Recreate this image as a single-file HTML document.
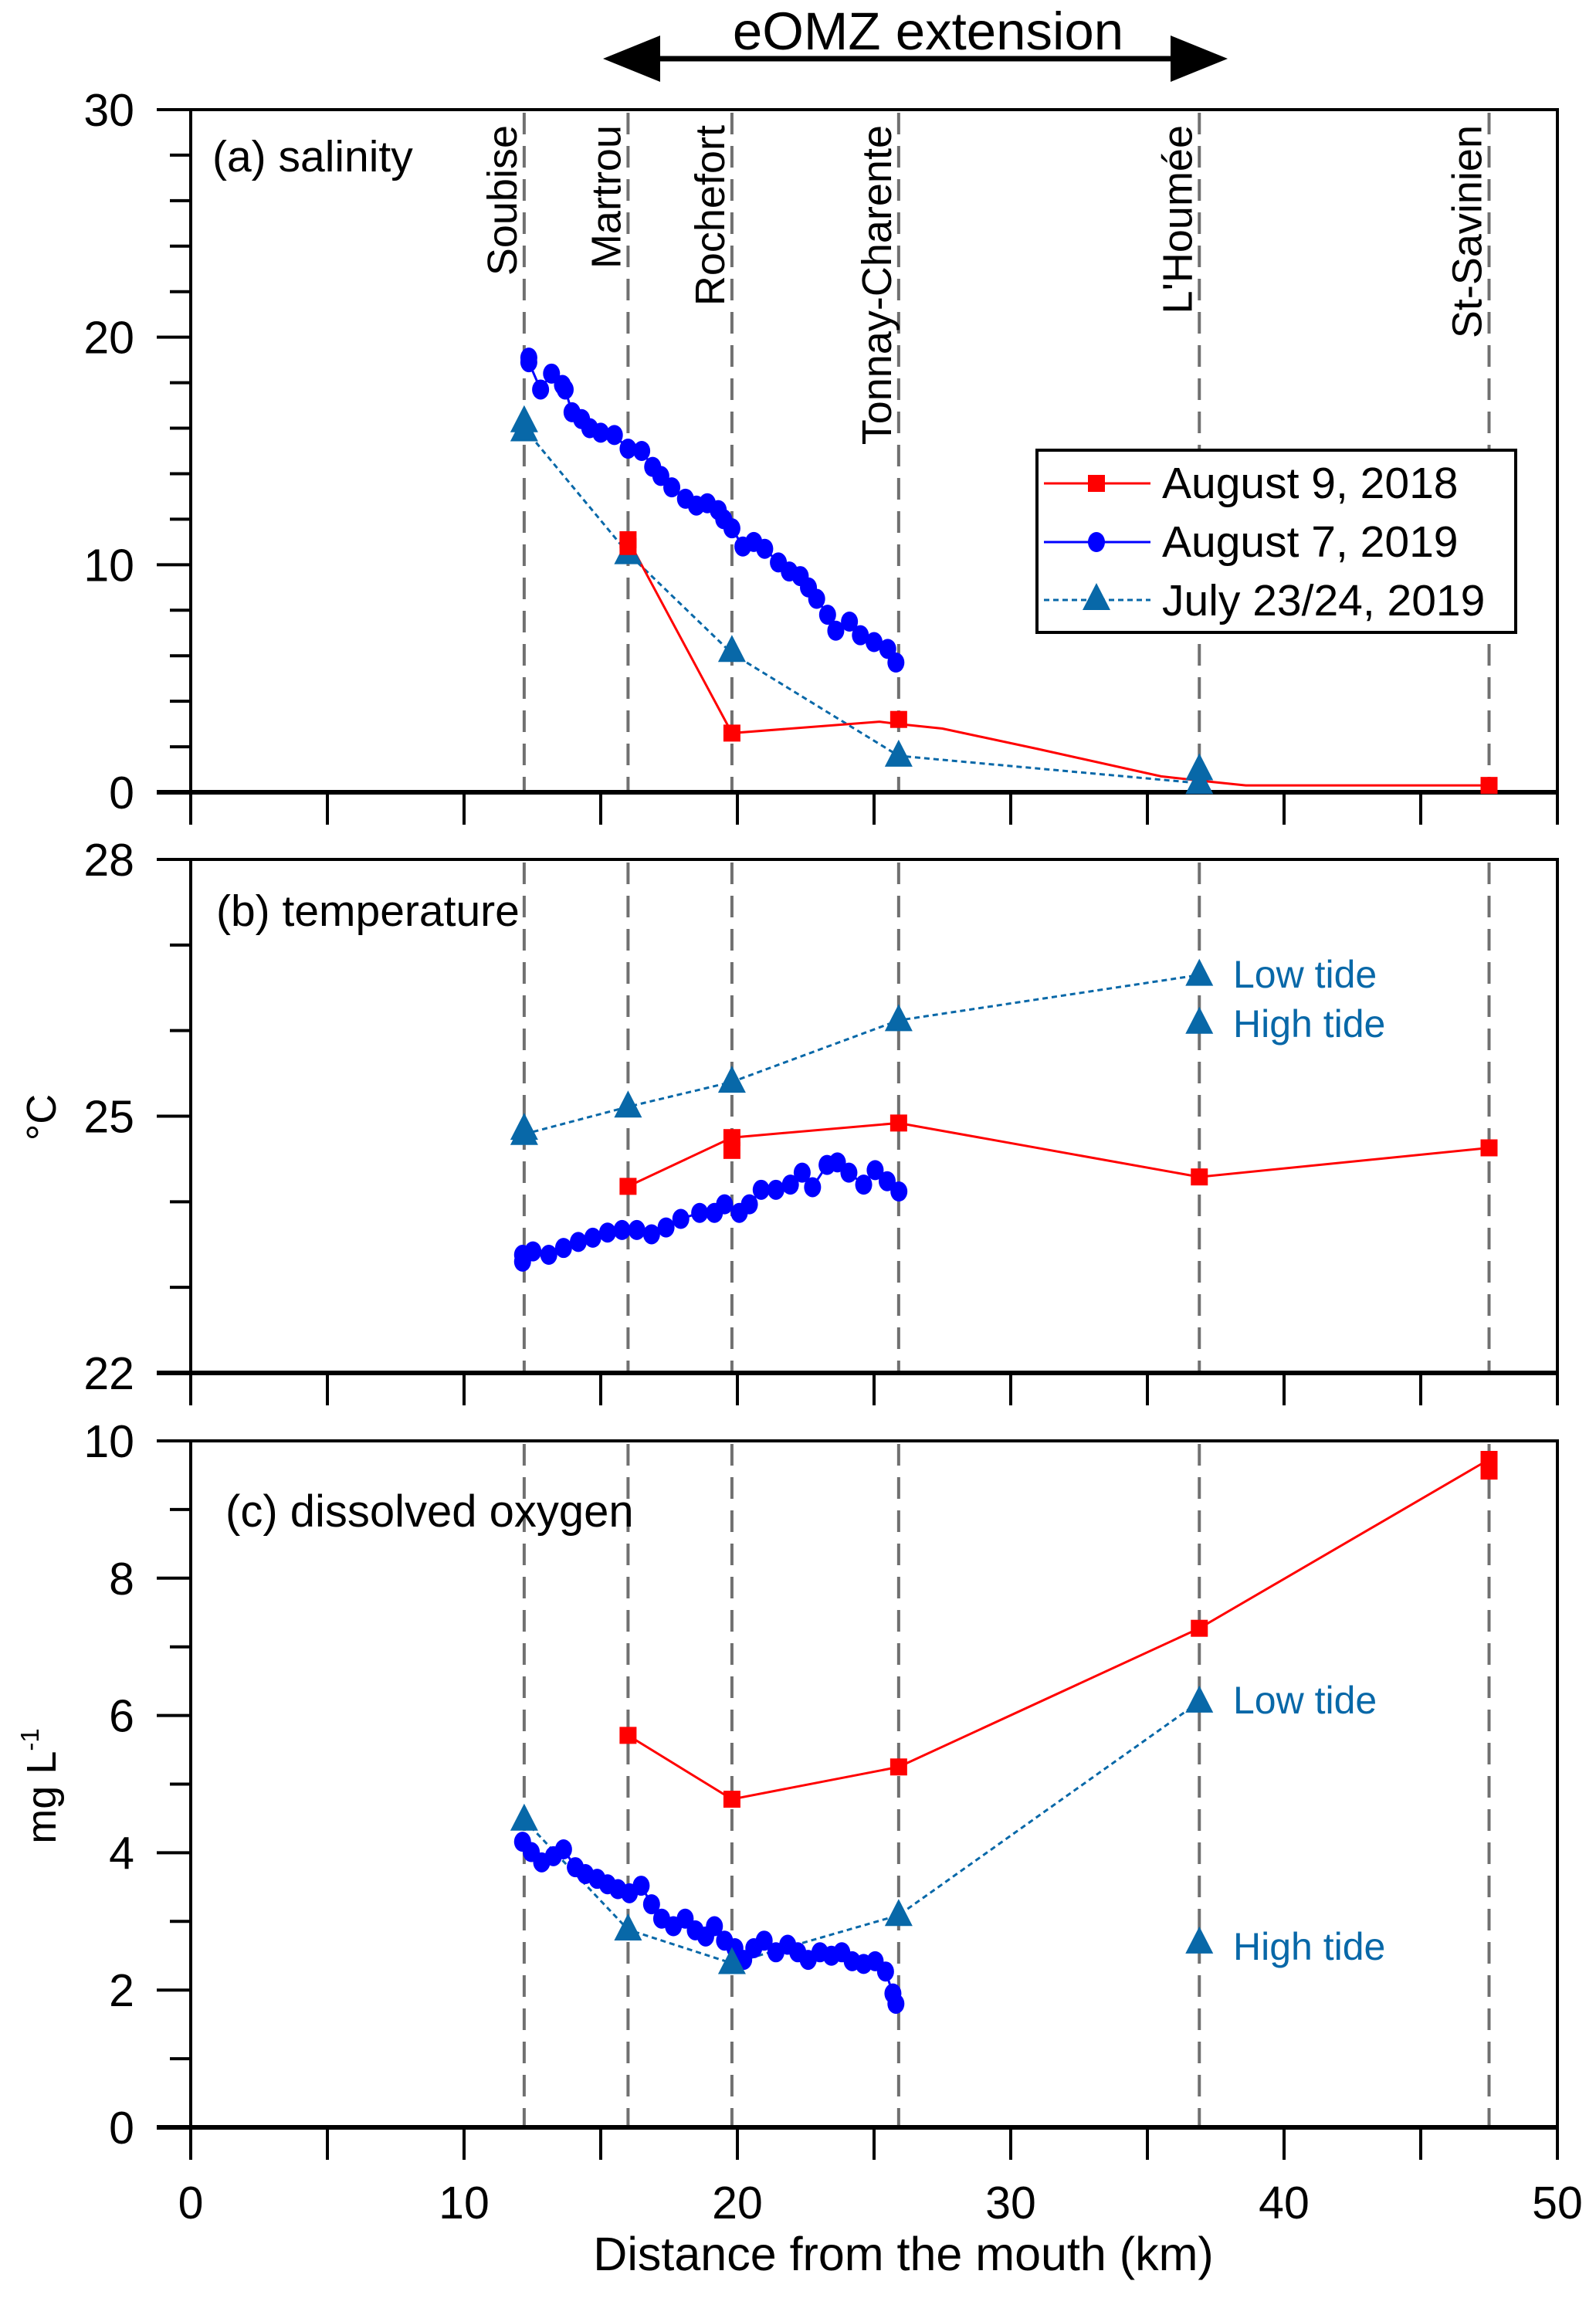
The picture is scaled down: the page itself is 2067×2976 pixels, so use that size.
<!DOCTYPE html>
<html><head><meta charset="utf-8">
<style>
html,body{margin:0;padding:0;background:#fff;}
svg{display:block;font-family:"Liberation Sans",Arial,sans-serif;}
</style></head>
<body>
<svg id="chart" xmlns="http://www.w3.org/2000/svg" width="2067" height="2976" viewBox="0 0 2067 2976"></svg>
<script>
// ---- data ----
const stationNames = ["Soubise","Martrou","Rochefort","Tonnay-Charente","L'Houmée","St-Savinien"];
const stationKm = [12.2,16.0,19.8,25.9,36.9,47.5];

// salinity
const salRedLineKm = [16.0,19.8,25.2,25.9,27.5,31,35.5,37,38.6,47.5];
const salRedLineVal = [11.1,2.6,3.1,3.0,2.8,1.9,0.7,0.5,0.3,0.3];
const salRedMarkKm = [16.0,16.0,19.8,25.9,47.5];
const salRedMarkVal = [11.1,10.8,2.6,3.2,0.3];
const salTriLineKm = [12.2,16.0,19.8,25.9,36.9];
const salTriLineVal = [16.0,10.5,6.1,1.6,0.4];
const salTriKm = [12.2,12.2,16.0,19.8,25.9,36.9,36.9];
const salTriVal = [16.3,15.9,10.5,6.2,1.6,1.0,0.4];
const salDotKm = [12.37,12.37,12.8,13.2,13.6,13.7,13.95,14.3,14.6,15.0,15.5,16.0,16.5,16.9,17.2,17.6,18.1,18.5,18.9,19.3,19.5,19.8,20.2,20.6,21.0,21.5,21.9,22.3,22.6,22.9,23.3,23.6,24.1,24.5,25.0,25.5,25.8];
const salDotVal = [19.1,18.9,17.7,18.4,17.9,17.7,16.7,16.4,16.0,15.8,15.7,15.1,15.0,14.3,13.9,13.4,12.9,12.6,12.7,12.4,12.0,11.6,10.8,11.0,10.7,10.1,9.7,9.5,9.0,8.5,7.8,7.1,7.5,6.9,6.6,6.3,5.7];

// temperature
const tmpRedLineKm = [16.0,19.8,25.9,36.9,47.5];
const tmpRedLineVal = [24.18,24.75,24.92,24.29,24.63];
const tmpRedMarkKm = [16.0,19.8,19.8,25.9,36.9,47.5];
const tmpRedMarkVal = [24.18,24.75,24.6,24.92,24.29,24.63];
const tmpTriLineKm = [12.2,16.0,19.8,25.9,36.9];
const tmpTriLineVal = [24.79,25.11,25.40,26.12,26.65];
const tmpTriKm = [12.2,12.2,16.0,19.8,25.9,36.9,36.9];
const tmpTriVal = [24.79,24.85,25.11,25.40,26.12,26.65,26.09];
const tmpDotKm = [12.14,12.14,12.52,13.1,13.64,14.18,14.71,15.25,15.78,16.32,16.86,17.39,17.93,18.62,19.16,19.53,20.07,20.44,20.87,21.41,21.94,22.37,22.75,23.28,23.66,24.08,24.62,25.04,25.48,25.91];
const tmpDotVal = [23.30,23.38,23.42,23.38,23.46,23.53,23.58,23.64,23.67,23.67,23.62,23.70,23.80,23.87,23.87,23.97,23.87,23.97,24.14,24.14,24.20,24.34,24.17,24.43,24.46,24.34,24.20,24.37,24.24,24.12];

// dissolved oxygen
const doRedLineKm = [16.0,19.8,25.9,36.9,47.5];
const doRedLineVal = [5.71,4.78,5.25,7.27,9.73];
const doRedMarkKm = [16.0,19.8,25.9,36.9,47.5,47.5];
const doRedMarkVal = [5.71,4.78,5.25,7.27,9.73,9.56];
const doTriLineKm = [12.2,16.0,19.8,25.9,36.9];
const doTriLineVal = [4.48,2.88,2.39,3.09,6.2];
const doTriKm = [12.2,16.0,19.8,25.9,36.9,36.9];
const doTriVal = [4.48,2.88,2.39,3.09,6.2,2.69];
const doDotKm = [12.14,12.46,12.84,13.27,13.64,14.07,14.44,14.87,15.25,15.63,16.05,16.48,16.86,17.23,17.66,18.09,18.46,18.84,19.16,19.53,19.91,20.23,20.6,20.98,21.41,21.84,22.21,22.59,23.02,23.44,23.82,24.2,24.62,25.04,25.42,25.69,25.8];
const doDotVal = [4.16,4.01,3.86,3.95,4.05,3.79,3.69,3.62,3.54,3.47,3.41,3.52,3.25,3.04,2.93,3.04,2.87,2.78,2.93,2.72,2.61,2.44,2.61,2.72,2.55,2.66,2.55,2.44,2.55,2.5,2.55,2.42,2.38,2.42,2.27,1.95,1.8];

const xTickVals = [0,5,10,15,20,25,30,35,40,45,50];
const xTickLabels = ["0","10","20","30","40","50"];

// ---- layout ----
const NS = "http://www.w3.org/2000/svg";
const svg = document.getElementById('chart');
const X0 = 247, X1 = 2017, XMIN = 0, XMAX = 50;
function xs(v){ return X0 + (v - XMIN) / (XMAX - XMIN) * (X1 - X0); }
const panels = [
 {key:'salinity', top:142, bot:1026, min:0, max:30, minor:2, labels:[0,10,20,30]},
 {key:'temperature', top:1113, bot:1778, min:22, max:28, minor:1, labels:[22,25,28]},
 {key:'oxygen', top:1866, bot:2755, min:0, max:10, minor:1, labels:[0,2,4,6,8,10]}
];
function ysFn(p){ return v => p.bot - (v - p.min) / (p.max - p.min) * (p.bot - p.top); }
function el(tag, attrs, parent){
 const e = document.createElementNS(NS, tag);
 for (const k in attrs) e.setAttribute(k, attrs[k]);
 (parent || svg).appendChild(e);
 return e;
}
const RED = '#ff0000', BLUE = '#0000ff', TRI = '#0868a8';

panels.forEach((p, pi) => {
 const ys = ysFn(p);
 const g = el('g', {});
 
 
 stationKm.forEach((k, i) => {
  const l = el('line', {x1:xs(k), x2:xs(k), y1:p.top + 4, y2:p.bot, stroke:'#707070', 'stroke-width':4, 'stroke-dasharray':'28,15'}, g);
  
  
 });
 const fr = el('rect', {x:X0, y:p.top, width:X1 - X0, height:p.bot - p.top, fill:'none', stroke:'#000', 'stroke-width':4}, g);
 
 
 el('line', {x1:X0 - 44, x2:X1, y1:p.bot, y2:p.bot, stroke:'#000', 'stroke-width':6}, g);
 for (let v = p.min; v <= p.max + 1e-9; v += p.minor) {
  const major = p.labels.some(l => Math.abs(l - v) < 1e-6);
  el('line', {x1:X0 - (major ? 44 : 27), x2:X0, y1:ys(v), y2:ys(v), stroke:'#000', 'stroke-width':4}, g);
  if (major) {
   const t = el('text', {x:174, y:ys(v) + 21, 'text-anchor':'end', 'font-size':59}, g);
   t.textContent = String(v);
   
   
  }
 }
 xTickVals.forEach(v => {
  el('line', {x1:xs(v), x2:xs(v), y1:p.bot, y2:p.bot + 42, stroke:'#000', 'stroke-width':4}, g);
 });
});

function drawLine(ys, kms, vals, color, dash, name, w){
 const pts = kms.map((k, i) => xs(k) + ',' + ys(vals[i])).join(' ');
 const a = {points:pts, fill:'none', stroke:color, 'stroke-width':w || 3};
 if (dash) a['stroke-dasharray'] = dash;
 const pl = el('polyline', a);
 
 
}
function drawSquares(ys, kms, vals, name){
 kms.forEach((k, i) => {
  const r = el('rect', {x:xs(k) - 11, y:ys(vals[i]) - 11, width:22, height:22, fill:RED});
  
  
 });
}
function drawDots(ys, kms, vals, name){
 kms.forEach((k, i) => {
  const c = el('ellipse', {cx:xs(k), cy:ys(vals[i]), rx:11, ry:13, fill:BLUE});
  
  
 });
}
function drawTris(ys, kms, vals, name){
 kms.forEach((k, i) => {
  const x = xs(k), y = ys(vals[i]);
  const t = el('polygon', {points:(x - 18) + ',' + (y + 14) + ' ' + (x + 18) + ',' + (y + 14) + ' ' + x + ',' + (y - 21), fill:TRI});
  
  
 });
}
const ysA = ysFn(panels[0]), ysB = ysFn(panels[1]), ysC = ysFn(panels[2]);
drawLine(ysA, salDotKm, salDotVal, BLUE, null, 'salinity-2019-aug-line', 3);
drawLine(ysA, salTriLineKm, salTriLineVal, TRI, '7,5', 'salinity-2019-jul-line', 3);
drawLine(ysA, salRedLineKm, salRedLineVal, RED, null, 'salinity-2018-line', 3);
drawDots(ysA, salDotKm, salDotVal, 'salinity-2019-aug-point');
drawTris(ysA, salTriKm, salTriVal, 'salinity-2019-jul-point');
drawSquares(ysA, salRedMarkKm, salRedMarkVal, 'salinity-2018-point');
drawLine(ysB, tmpDotKm, tmpDotVal, BLUE, null, 'temperature-2019-aug-line', 3);
drawLine(ysB, tmpTriLineKm, tmpTriLineVal, TRI, '7,5', 'temperature-2019-jul-line', 3);
drawLine(ysB, tmpRedLineKm, tmpRedLineVal, RED, null, 'temperature-2018-line', 3);
drawDots(ysB, tmpDotKm, tmpDotVal, 'temperature-2019-aug-point');
drawTris(ysB, tmpTriKm, tmpTriVal, 'temperature-2019-jul-point');
drawSquares(ysB, tmpRedMarkKm, tmpRedMarkVal, 'temperature-2018-point');
drawLine(ysC, doDotKm, doDotVal, BLUE, null, 'oxygen-2019-aug-line', 3);
drawLine(ysC, doTriLineKm, doTriLineVal, TRI, '7,5', 'oxygen-2019-jul-line', 3);
drawLine(ysC, doRedLineKm, doRedLineVal, RED, null, 'oxygen-2018-line', 3);
drawDots(ysC, doDotKm, doDotVal, 'oxygen-2019-aug-point');
drawTris(ysC, doTriKm, doTriVal, 'oxygen-2019-jul-point');
drawSquares(ysC, doRedMarkKm, doRedMarkVal, 'oxygen-2018-point');

stationNames.forEach((n, i) => {
 const x = xs(stationKm[i]) - 10, y = 162;
 const t = el('text', {x:x, y:y, transform:'rotate(-90 ' + x + ' ' + y + ')', 'text-anchor':'end', 'font-size':54});
 t.textContent = n;
 
 
});

xTickLabels.forEach((s, i) => {
 const t = el('text', {x:xs(i * 10), y:2873, 'text-anchor':'middle', 'font-size':59});
 t.textContent = s;
 
 
});
</script>
<svg style="position:absolute;left:0;top:0" width="2067" height="2976" xmlns="http://www.w3.org/2000/svg">
 <g font-family="Liberation Sans, Arial, sans-serif">
  <text x="275" y="222" font-size="57">(a) salinity</text>
  <text x="280" y="1199" font-size="57">(b) temperature</text>
  <text x="292" y="1977" font-size="58">(c) dissolved oxygen</text>
  <g>
   <line x1="830" y1="76" x2="1540" y2="76" stroke="#000" stroke-width="7"/>
   <polygon points="781,76 855,46 855,106" fill="#000"/>
   <polygon points="1590,76 1516,46 1516,106" fill="#000"/>
  </g>
  <text x="1202" y="64" font-size="69" text-anchor="middle">eOMZ extension</text>
  <g>
   <rect x="1343" y="583" width="620" height="236" fill="#fff" stroke="#000" stroke-width="4"/>
   <line x1="1352" y1="626" x2="1490" y2="626" stroke="#ff0000" stroke-width="3"/>
   <rect x="1409" y="615" width="22" height="22" fill="#ff0000"/>
   <text x="1505" y="645" font-size="57">August 9, 2018</text>
   <line x1="1352" y1="702" x2="1490" y2="702" stroke="#0000ff" stroke-width="3"/>
   <ellipse cx="1420" cy="702" rx="11" ry="13" fill="#0000ff"/>
   <text x="1505" y="721" font-size="57">August 7, 2019</text>
   <line x1="1352" y1="777" x2="1490" y2="777" stroke="#0868a8" stroke-width="3" stroke-dasharray="7,5"/>
   <polygon points="1402,790 1438,790 1420,755" fill="#0868a8"/>
   <text x="1505" y="797" font-size="57">July 23/24, 2019</text>
  </g>
  <text x="1597" y="1279" font-size="50" fill="#0868a8">Low tide</text>
  <text x="1597" y="1343" font-size="50" fill="#0868a8">High tide</text>
  <text x="1597" y="2219" font-size="50" fill="#0868a8">Low tide</text>
  <text x="1597" y="2538" font-size="50" fill="#0868a8">High tide</text>
  <text x="72" y="1447" font-size="54" text-anchor="middle" transform="rotate(-90 72 1447)">°C</text>
  <text x="72" y="2313" font-size="54" text-anchor="middle" transform="rotate(-90 72 2313)">mg L<tspan font-size="33" dy="-22">-1</tspan></text>
  <text x="1170" y="2940" font-size="61" text-anchor="middle">Distance from the mouth (km)</text>
 </g>
</svg>
</body></html>
